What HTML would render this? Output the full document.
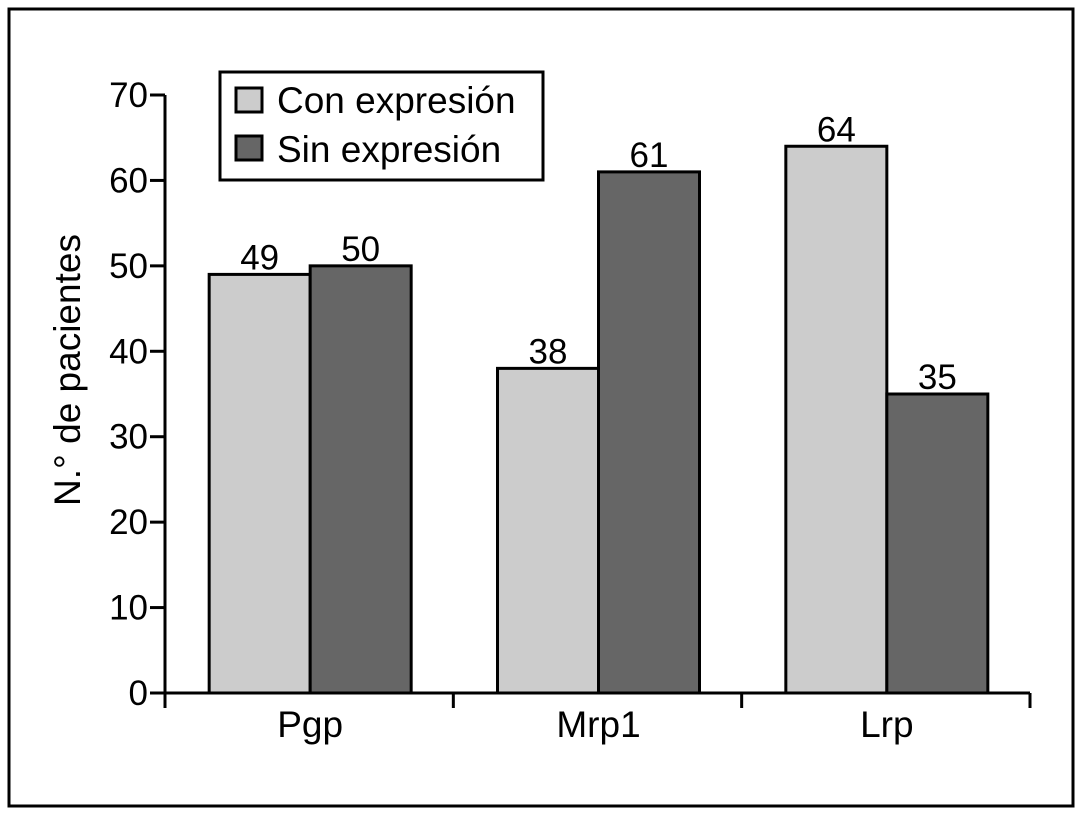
<!DOCTYPE html>
<html><head><meta charset="utf-8"><style>
body{margin:0;background:#fff}
svg text{font-family:"Liberation Sans",sans-serif;fill:#000}
</style></head><body>
<svg width="1083" height="816" xmlns="http://www.w3.org/2000/svg">
<rect x="9" y="9" width="1064" height="797" fill="none" stroke="#000" stroke-width="3"/>
<g id="plot"></g>
<g>
<rect x="220" y="72" width="323" height="108" fill="#fff" stroke="#000" stroke-width="3"/>
<rect x="236" y="88" width="26" height="24" fill="#cccccc" stroke="#000" stroke-width="3"/>
<text x="277" y="113" font-size="37">Con expresión</text>
<rect x="236" y="136" width="26" height="24" fill="#666666" stroke="#000" stroke-width="3"/>
<text x="277" y="162" font-size="37">Sin expresión</text>
</g>
<text transform="translate(80,370) rotate(-90)" text-anchor="middle" font-size="37">N.° de pacientes</text>
</svg>
<script>
const categories=["Pgp","Mrp1","Lrp"];
const conValues=[49,38,64];
const sinValues=[50,61,35];
const yTicks=[0,10,20,30,40,50,60,70];
const NS="http://www.w3.org/2000/svg";
const g=document.getElementById('plot');
const x0=165,x1=1030,y0=693,yTop=95,yMax=70;
const y=v=>y0-(y0-yTop)*v/yMax;
const bandW=(x1-x0)/categories.length;
const cx=i=>x0+bandW*(i+0.5)+1;
const bw=101;
function mk(t,a){const e=document.createElementNS(NS,t);for(const k in a)e.setAttribute(k,a[k]);g.appendChild(e);return e;}
categories.forEach((c,i)=>{
 const b1=mk('rect',{x:cx(i)-bw,y:y(conValues[i]),width:bw,height:y0-y(conValues[i]),fill:'#cccccc',stroke:'#000','stroke-width':3});
 
 
 const b2=mk('rect',{x:cx(i),y:y(sinValues[i]),width:bw,height:y0-y(sinValues[i]),fill:'#666666',stroke:'#000','stroke-width':3});
 
 
 const l1=mk('text',{x:cx(i)-bw/2,y:y(conValues[i])-5,'text-anchor':'middle','font-size':35});
 l1.textContent=conValues[i];
 
 
 const l2=mk('text',{x:cx(i)+bw/2,y:y(sinValues[i])-5,'text-anchor':'middle','font-size':35});
 l2.textContent=sinValues[i];
 
 
 const cl=mk('text',{x:cx(i),y:737,'text-anchor':'middle','font-size':37});
 cl.textContent=c;
 
 
});
for(let i=0;i<=categories.length;i++){
 const t=mk('line',{x1:x0+bandW*i,x2:x0+bandW*i,y1:y0,y2:708,stroke:'#000','stroke-width':3});
 
 
}
yTicks.forEach(v=>{
 const t=mk('line',{x1:150,x2:x0,y1:y(v),y2:y(v),stroke:'#000','stroke-width':3});
 
 
 const l=mk('text',{x:148,y:y(v)+12,'text-anchor':'end','font-size':35});
 l.textContent=v;
 
 
});
const ya=mk('line',{x1:x0,x2:x0,y1:yTop,y2:708,stroke:'#000','stroke-width':3});


const xa=mk('line',{x1:x0,x2:x1,y1:y0,y2:y0,stroke:'#000','stroke-width':3});


</script>
</body></html>
